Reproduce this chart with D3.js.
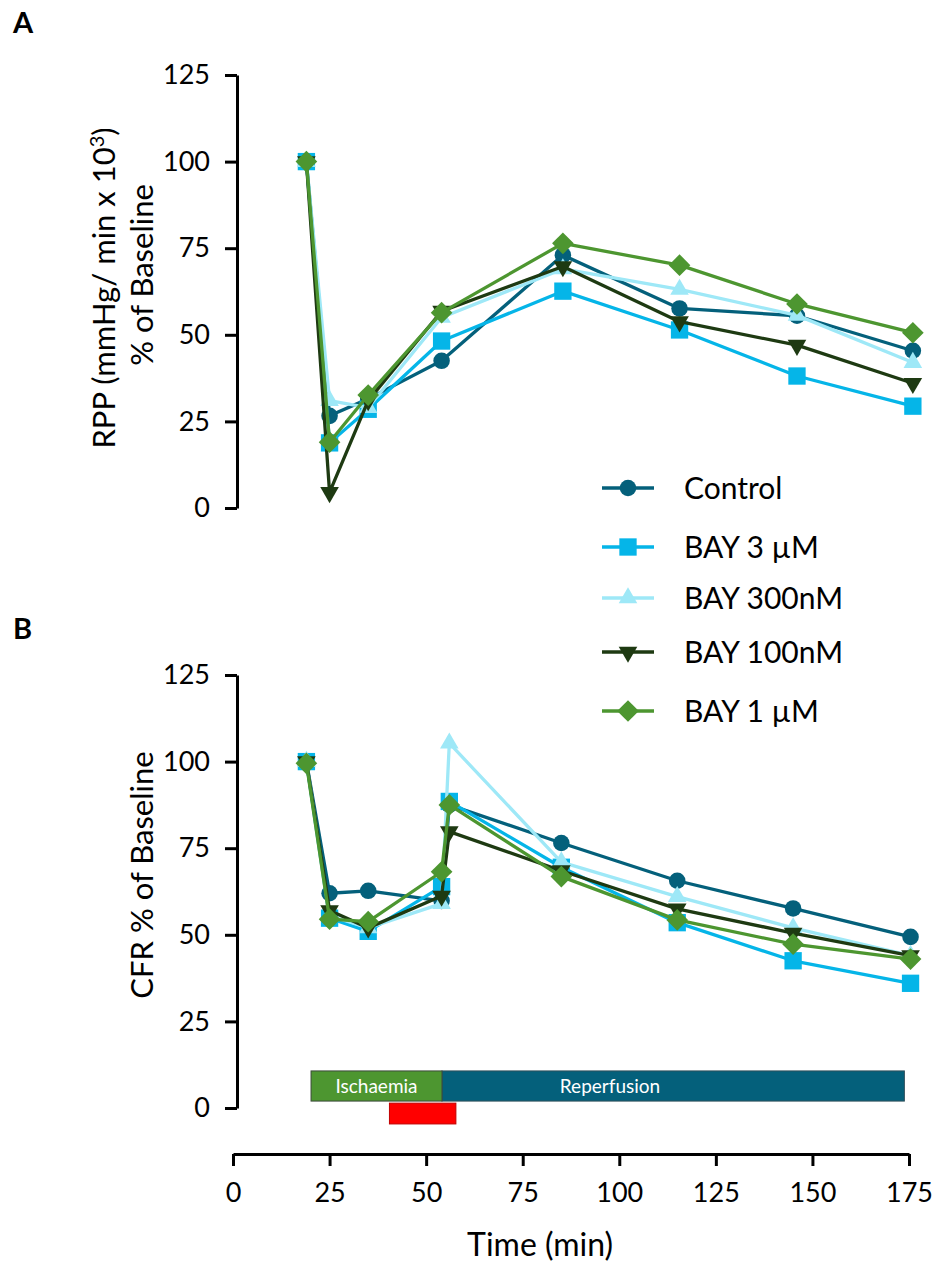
<!DOCTYPE html>
<html>
<head>
<meta charset="utf-8">
<script src="https://cdn.jsdelivr.net/npm/d3@7"></script>
<style>
  html, body { margin: 0; padding: 0; background: #fff; }
  svg { display: block; font-family: Lato, "Open Sans", sans-serif; }
</style>
</head>
<body>
<svg id="chart" width="932" height="1265"></svg>
<script>
// ---- data ----
const seriesNames = ["Control", "BAY 3 \u00b5M", "BAY 300nM", "BAY 100nM", "BAY 1 \u00b5M"];
const seriesColors = ["#04607b", "#05b5e8", "#9ee8f7", "#1e3a12", "#4d9630"];
const seriesShapes = ["circle", "square", "triangleUp", "triangleDown", "diamond"];

// Panel A: rate pressure product, % of baseline
const rppTimes = [19, 25, 35, 54, 85.4, 115.6, 146, 176];
const rppControl = [100, 26.6, 31.5, 42.5, 73, 57.6, 55.5, 45.4];
const rppBay3uM = [100, 18.8, 28.5, 48.2, 62.6, 51.4, 38.1, 29.4];
const rppBay300nM = [100, 31, 29, 55, 69, 63.1, 55.6, 42];
const rppBay100nM = [100, 4.5, 31, 56.8, 69.7, 53.8, 47, 36];
const rppBay1uM = [100, 19, 32.6, 56.4, 76.4, 70.1, 58.9, 50.6];

// Panel B: coronary flow rate, % of baseline
const cfrTimes = [19, 25, 35, 54, 56, 85, 115, 145, 175.4];
const cfrControl = [100, 62, 62.7, 59.8, 87.5, 76.5, 65.6, 57.6, 49.4];
const cfrBay3uM = [100, 54.8, 51, 63.9, 88.5, 69.5, 53.5, 42.5, 36];
const cfrBay300nM = [100, 55.5, 52, 59, 105.3, 71, 61, 52, 44];
const cfrBay100nM = [100, 57, 52, 61.2, 79.8, 68.5, 57.5, 50.5, 44];
const cfrBay1uM = [99.5, 54.5, 53.8, 68.2, 87.5, 66.8, 54.3, 47.3, 43];

const yTicks = [0, 25, 50, 75, 100, 125];
const xTicks = [0, 25, 50, 75, 100, 125, 150, 175];

// protocol bars (minutes)
const ischaemiaPeriod = [20.2, 54.1];
const reperfusionPeriod = [54.1, 173.8];
const treatmentPeriod = [40.5, 57.7];

// ---- layout ----
const svg = d3.select("#chart");
svg.append("rect").attr("width", 932).attr("height", 1265).attr("fill", "#fff");

const x = d3.scaleLinear().domain([0, 175]).range([233, 909]);
const yA = d3.scaleLinear().domain([0, 125]).range([508, 75]);
const yB = d3.scaleLinear().domain([0, 125]).range([1108, 675]);
const yAxisX = 237;

const symbolFor = {
  circle: d3.symbol().type(d3.symbolCircle).size(215),
  square: d3.symbol().type(d3.symbolSquare).size(300),
  triangleUp: d3.symbol().type(d3.symbolTriangle).size(150),
  triangleDown: d3.symbol().type(d3.symbolTriangle).size(150),
  diamond: d3.symbol().type(d3.symbolSquare).size(235)
};
const rotFor = { circle: 0, square: 0, triangleUp: 0, triangleDown: 180, diamond: 45 };

function drawYAxis(scale) {
  const g = svg.append("g")
    .attr("transform", `translate(${yAxisX},0)`)
    .call(d3.axisLeft(scale).tickValues(yTicks).tickSize(12).tickSizeOuter(0).tickPadding(15));
  g.select(".domain").attr("stroke", "#000").attr("stroke-width", 3);
  g.selectAll(".tick line").attr("stroke", "#000").attr("stroke-width", 3);
  g.selectAll(".tick text").attr("fill", "#000").style("font-size", "27px").style("font-family", "Lato");
}

function drawSeries(times, valuesList, yScale) {
  const line = d3.line().x((d, i) => x(times[i])).y(d => yScale(d));
  valuesList.forEach((vals, s) => {
    const g = svg.append("g");
    g.append("path").datum(vals)
      .attr("d", line)
      .attr("fill", "none")
      .attr("stroke", seriesColors[s])
      .attr("stroke-width", 3.3)
      .attr("stroke-linejoin", "round");
    const shape = seriesShapes[s];
    g.selectAll("path.pt").data(vals).enter().append("path")
      .attr("class", "pt")
      .attr("d", symbolFor[shape])
      .attr("fill", seriesColors[s])
      .attr("transform", (d, i) => `translate(${x(times[i])},${yScale(d)}) rotate(${rotFor[shape]})`);
  });
}

// ---- panel A ----
drawYAxis(yA);
drawSeries(rppTimes, [rppControl, rppBay3uM, rppBay300nM, rppBay100nM, rppBay1uM], yA);

svg.append("text").attr("x", 13).attr("y", 33).text("A")
  .style("font-size", "29px").style("font-weight", "bold").attr("fill", "#000");

const tA1 = svg.append("text")
  .attr("transform", "translate(115,288) rotate(-90)")
  .attr("text-anchor", "middle").style("font-size", "31px").attr("fill", "#000");
tA1.append("tspan").text("RPP (mmHg/ min x 10");
tA1.append("tspan").text("3").attr("dy", "-0.55em").style("font-size", "20px");
tA1.append("tspan").text(")").attr("dy", "0.35em");

svg.append("text")
  .attr("transform", "translate(153,275) rotate(-90)")
  .attr("text-anchor", "middle").style("font-size", "31px").attr("fill", "#000")
  .text("% of Baseline");

// ---- legend ----
const legendRows = [488, 547, 598, 652, 711];
seriesNames.forEach((name, s) => {
  const g = svg.append("g").attr("transform", `translate(0,${legendRows[s]})`);
  g.append("line").attr("x1", 602).attr("x2", 654).attr("y1", 0).attr("y2", 0)
    .attr("stroke", seriesColors[s]).attr("stroke-width", 3.3);
  const shape = seriesShapes[s];
  g.append("path").attr("d", symbolFor[shape]).attr("fill", seriesColors[s])
    .attr("transform", `translate(628,0) rotate(${rotFor[shape]})`);
  g.append("text").attr("x", 684).attr("y", 0).attr("dy", "0.36em")
    .style("font-size", "30px").attr("fill", "#000").text(name);
});

// ---- panel B ----
drawYAxis(yB);

// protocol bars
svg.append("rect")
  .attr("x", x(reperfusionPeriod[0])).attr("width", x(reperfusionPeriod[1]) - x(reperfusionPeriod[0]))
  .attr("y", yB(10.7)).attr("height", yB(2) - yB(10.7))
  .attr("fill", "#04607b").attr("stroke", "#2f4f5a").attr("stroke-width", 1);
svg.append("rect")
  .attr("x", x(ischaemiaPeriod[0])).attr("width", x(ischaemiaPeriod[1]) - x(ischaemiaPeriod[0]))
  .attr("y", yB(10.7)).attr("height", yB(2) - yB(10.7))
  .attr("fill", "#4d9630").attr("stroke", "#3c4a3a").attr("stroke-width", 1);
svg.append("rect")
  .attr("x", x(treatmentPeriod[0])).attr("width", x(treatmentPeriod[1]) - x(treatmentPeriod[0]))
  .attr("y", yB(1.4)).attr("height", yB(-4.6) - yB(1.4))
  .attr("fill", "#ff0000").attr("stroke", "#c00000").attr("stroke-width", 1);
svg.append("text")
  .attr("x", x((ischaemiaPeriod[0] + ischaemiaPeriod[1]) / 2)).attr("y", yB(6.35)).attr("dy", "0.36em")
  .attr("text-anchor", "middle").style("font-size", "19px").attr("fill", "#fff").text("Ischaemia");
svg.append("text")
  .attr("x", x(97.6)).attr("y", yB(6.35)).attr("dy", "0.36em")
  .attr("text-anchor", "middle").style("font-size", "19px").attr("fill", "#fff").text("Reperfusion");

drawSeries(cfrTimes, [cfrControl, cfrBay3uM, cfrBay300nM, cfrBay100nM, cfrBay1uM], yB);

svg.append("text").attr("x", 13).attr("y", 639).text("B")
  .style("font-size", "29px").style("font-weight", "bold").attr("fill", "#000");

svg.append("text")
  .attr("transform", "translate(153,875) rotate(-90)")
  .attr("text-anchor", "middle").style("font-size", "31px").attr("fill", "#000")
  .text("CFR % of Baseline");

// ---- shared time axis ----
const gx = svg.append("g")
  .attr("transform", "translate(0,1154)")
  .call(d3.axisBottom(x).tickValues(xTicks).tickSize(12).tickSizeOuter(0).tickPadding(17));
gx.select(".domain").attr("stroke", "#000").attr("stroke-width", 3);
gx.selectAll(".tick line").attr("stroke", "#000").attr("stroke-width", 3);
gx.selectAll(".tick text").attr("fill", "#000").style("font-size", "27px").style("font-family", "Lato");

svg.append("text")
  .attr("x", x(79.5)).attr("y", 1256)
  .attr("text-anchor", "middle").style("font-size", "32px").attr("fill", "#000")
  .text("Time (min)");
</script>
</body>
</html>
